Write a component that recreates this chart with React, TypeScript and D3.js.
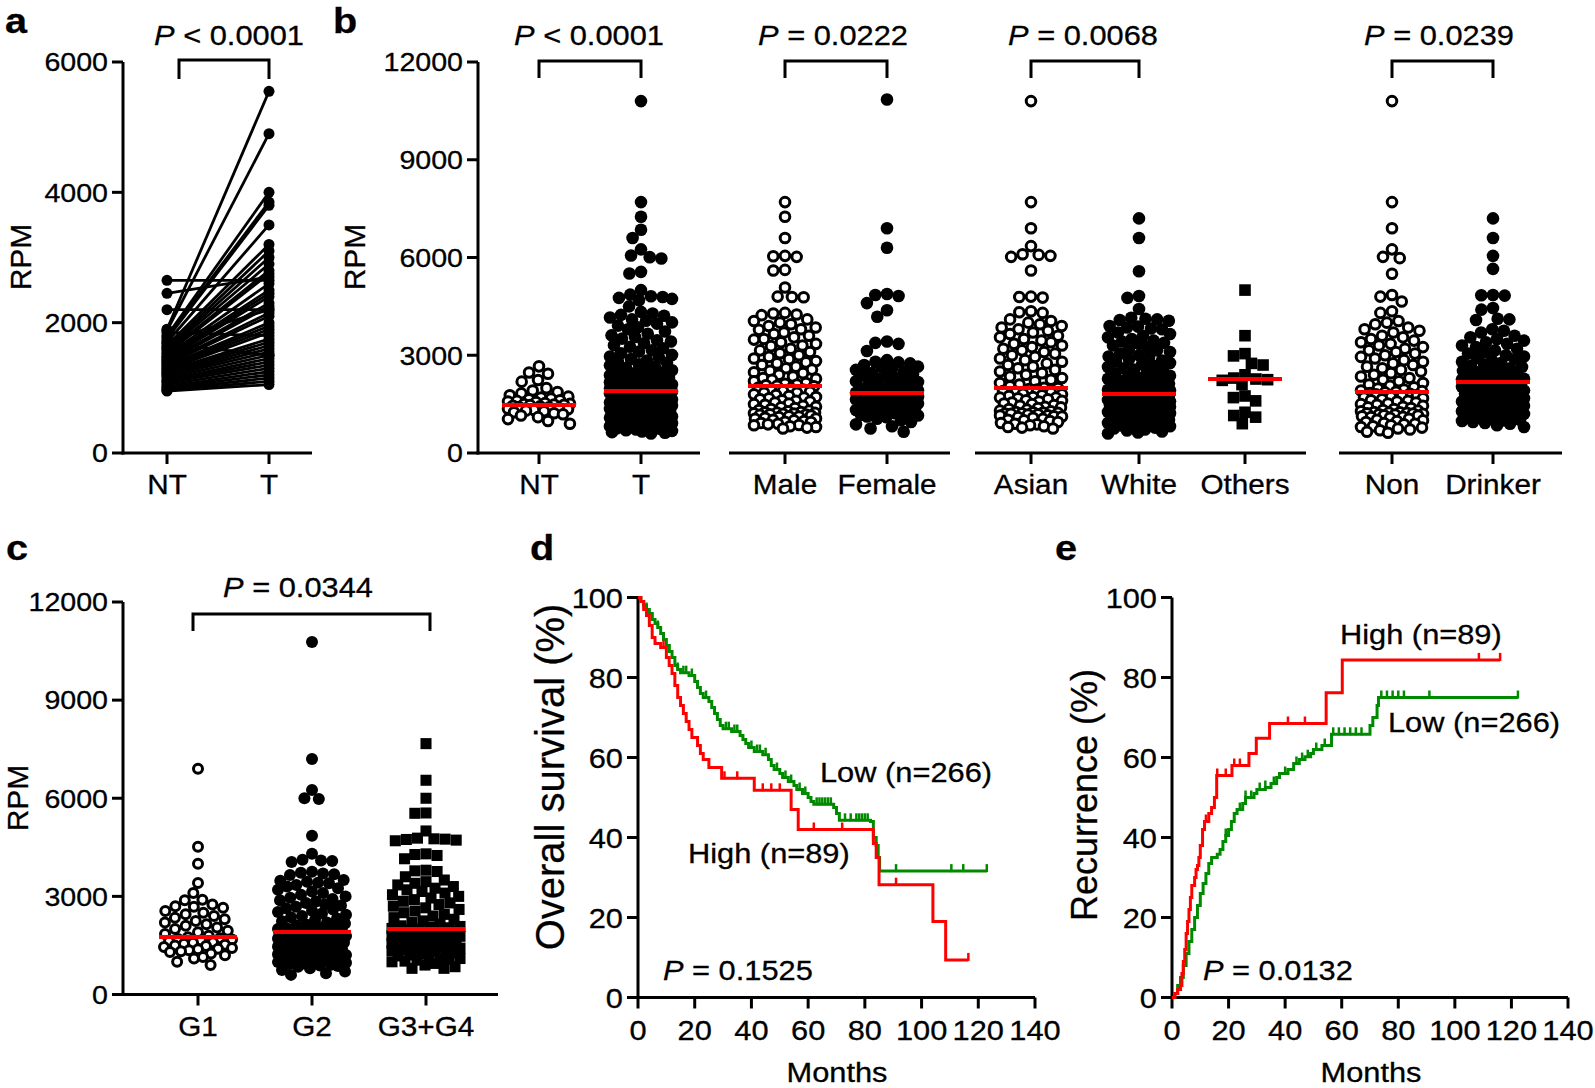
import React from "react";
import * as d3 from "d3";

const FONT = "'Liberation Sans', Arial, Helvetica, sans-serif";
const SX = 1.1;

// ---------- Panel a: paired NT / T ----------
const aNT = [2650, 2450, 2200, 1900, 1880, 1850, 1800, 1780, 1750, 1720, 1700, 1680, 1650, 1620, 1600, 1580, 1550, 1530, 1500, 1480, 1460, 1440, 1420, 1400, 1380, 1360, 1340, 1320, 1300, 1280, 1260, 1240, 1220, 1200, 1180, 1150, 1120, 1100, 1080, 1050, 1020, 1000, 980, 960, 950];
const aT = [2650, 2700, 2200, 5550, 4900, 1800, 4000, 3850, 3800, 2200, 3500, 1500, 3200, 3100, 3000, 2900, 2800, 2750, 2600, 2500, 2450, 2400, 2300, 2250, 2150, 2100, 2000, 1950, 1900, 1850, 1750, 1700, 1650, 1600, 1550, 1500, 1450, 1400, 1350, 1300, 1250, 1200, 1150, 1100, 1050];
const aTicks = [0, 2000, 4000, 6000];

// ---------- Panel b ----------
const bCategories = ["NT", "T", "Male", "Female", "Asian", "White", "Others", "Non", "Drinker"];
const bNT = [2660, 2470, 2430, 2240, 2190, 1990, 1920, 1870, 1830, 1770, 1730, 1700, 1670, 1650, 1620, 1600, 1580, 1560, 1530, 1510, 1500, 1490, 1480, 1470, 1450, 1430, 1410, 1400, 1380, 1360, 1340, 1320, 1300, 1280, 1250, 1220, 1190, 1150, 1100, 1040, 980, 900];
const bT = [10800, 7700, 7250, 6850, 6600, 6250, 6060, 6010, 5970, 5560, 5510, 5000, 4860, 4810, 4790, 4760, 4730, 4690, 4500, 4330, 4280, 4240, 4210, 4160, 4100, 4060, 4010, 3970, 3910, 3860, 3800, 3730, 3660, 3610, 3560, 3510, 3460, 3420, 3370, 3310, 3260, 3210, 3150, 3110, 3060, 3010, 2960, 2920, 2880, 2840, 2800, 2770, 2720, 2690, 2650, 2610, 2580, 2540, 2510, 2480, 2450, 2420, 2390, 2370, 2340, 2310, 2290, 2260, 2240, 2210, 2190, 2170, 2150, 2120, 2100, 2080, 2060, 2040, 2030, 2010, 1990, 1980, 1960, 1950, 1940, 1930, 1920, 1910, 1905, 1900, 1890, 1880, 1870, 1855, 1850, 1835, 1820, 1810, 1795, 1780, 1770, 1755, 1740, 1725, 1710, 1700, 1685, 1670, 1655, 1640, 1625, 1610, 1595, 1580, 1565, 1550, 1535, 1520, 1505, 1490, 1475, 1460, 1445, 1430, 1415, 1400, 1385, 1370, 1355, 1340, 1320, 1305, 1290, 1270, 1255, 1240, 1220, 1205, 1190, 1170, 1150, 1135, 1120, 1100, 1080, 1065, 1050, 1030, 1010, 990, 970, 950, 935, 915, 895, 880, 860, 840, 820, 800, 780, 760, 740, 720, 700, 680, 660, 640, 620, 600];
const bMale = [7700, 7250, 6600, 6050, 6040, 6020, 5620, 5600, 5080, 4800, 4790, 4780, 4300, 4280, 4250, 4230, 4100, 4050, 4000, 3950, 3900, 3850, 3800, 3780, 3700, 3650, 3600, 3550, 3500, 3480, 3400, 3350, 3300, 3280, 3200, 3150, 3100, 3060, 3000, 2950, 2900, 2880, 2820, 2780, 2750, 2700, 2650, 2600, 2560, 2520, 2480, 2450, 2400, 2350, 2300, 2280, 2250, 2200, 2150, 2120, 2100, 2080, 2060, 2050, 2000, 1980, 1950, 1950, 1900, 1880, 1850, 1850, 1800, 1780, 1750, 1720, 1700, 1680, 1650, 1620, 1600, 1580, 1550, 1520, 1500, 1480, 1450, 1420, 1400, 1380, 1350, 1320, 1300, 1280, 1260, 1250, 1240, 1230, 1220, 1210, 1200, 1190, 1180, 1170, 1150, 1130, 1120, 1100, 1080, 1060, 1050, 1020, 1000, 980, 960, 950, 920, 900, 880, 860, 850, 820, 800, 780, 750];
const bFemale = [10850, 6900, 6300, 4880, 4850, 4820, 4600, 4380, 4180, 3420, 3380, 3350, 3130, 2850, 2800, 2780, 2750, 2700, 2650, 2620, 2580, 2550, 2500, 2450, 2420, 2380, 2350, 2300, 2270, 2250, 2200, 2180, 2150, 2100, 2080, 2050, 2000, 1980, 1950, 1920, 1900, 1880, 1860, 1850, 1830, 1810, 1800, 1780, 1760, 1740, 1720, 1700, 1680, 1660, 1640, 1620, 1600, 1580, 1560, 1540, 1520, 1500, 1480, 1460, 1440, 1420, 1400, 1380, 1360, 1340, 1320, 1300, 1280, 1260, 1240, 1220, 1200, 1170, 1150, 1120, 1100, 1050, 1000, 950, 880, 820, 750, 650];
const bAsian = [10800, 7700, 6900, 6350, 6100, 6080, 6050, 6020, 5600, 4800, 4790, 4770, 4350, 4320, 4300, 4100, 4050, 4000, 3950, 3900, 3850, 3800, 3750, 3700, 3650, 3600, 3550, 3500, 3450, 3400, 3350, 3300, 3250, 3200, 3150, 3100, 3050, 3000, 2950, 2900, 2850, 2800, 2750, 2700, 2650, 2600, 2550, 2500, 2450, 2400, 2350, 2300, 2250, 2200, 2150, 2100, 2050, 2000, 1990, 1960, 1950, 1900, 1880, 1850, 1820, 1800, 1770, 1750, 1720, 1700, 1700, 1680, 1650, 1620, 1600, 1580, 1550, 1520, 1500, 1470, 1450, 1420, 1400, 1380, 1350, 1330, 1300, 1280, 1260, 1250, 1240, 1230, 1220, 1210, 1200, 1190, 1180, 1160, 1150, 1130, 1120, 1100, 1080, 1050, 1020, 1000, 980, 950, 920, 900, 880, 850, 820, 800, 780, 750];
const bWhite = [7200, 6600, 5580, 4820, 4760, 4420, 4150, 4120, 4100, 4080, 4060, 3900, 3880, 3850, 3820, 3800, 3700, 3650, 3600, 3550, 3500, 3450, 3420, 3380, 3350, 3300, 3250, 3200, 3150, 3100, 3050, 3000, 2960, 2920, 2880, 2840, 2800, 2760, 2720, 2680, 2640, 2600, 2560, 2520, 2480, 2440, 2400, 2370, 2340, 2310, 2280, 2250, 2220, 2190, 2160, 2130, 2100, 2080, 2060, 2040, 2020, 2000, 1980, 1960, 1940, 1920, 1900, 1890, 1880, 1870, 1860, 1850, 1840, 1830, 1820, 1800, 1790, 1780, 1765, 1750, 1735, 1720, 1705, 1690, 1675, 1660, 1645, 1630, 1615, 1600, 1585, 1570, 1555, 1540, 1525, 1510, 1495, 1480, 1465, 1450, 1435, 1420, 1405, 1390, 1375, 1360, 1340, 1320, 1300, 1280, 1260, 1240, 1220, 1200, 1180, 1160, 1140, 1120, 1100, 1080, 1060, 1040, 1020, 1000, 980, 960, 940, 920, 900, 880, 860, 840, 820, 800, 780, 750, 720, 690, 660, 630, 600];
const bOthers = [5000, 3600, 3050, 2980, 2750, 2700, 2400, 2300, 2270, 2250, 2230, 2100, 1750, 1700, 1600, 1250, 1150, 1100, 900];
const bNon = [10800, 7700, 6900, 6250, 6020, 5980, 5500, 4850, 4800, 4650, 4350, 4300, 4050, 4000, 3950, 3850, 3800, 3750, 3700, 3600, 3550, 3500, 3450, 3400, 3350, 3300, 3250, 3200, 3150, 3100, 3050, 3000, 2950, 2900, 2850, 2800, 2750, 2700, 2650, 2600, 2550, 2500, 2450, 2400, 2350, 2300, 2250, 2200, 2150, 2100, 2060, 2020, 1980, 1950, 1920, 1900, 1880, 1860, 1840, 1820, 1800, 1780, 1750, 1720, 1700, 1680, 1650, 1620, 1600, 1580, 1550, 1520, 1500, 1480, 1450, 1420, 1400, 1380, 1350, 1320, 1300, 1280, 1260, 1250, 1240, 1230, 1220, 1210, 1200, 1190, 1180, 1160, 1150, 1130, 1110, 1100, 1080, 1050, 1020, 1000, 980, 950, 920, 900, 880, 850, 820, 800, 780, 750, 720, 700, 650, 620];
const bDrinker = [7200, 6600, 6050, 5650, 4850, 4840, 4830, 4450, 4400, 4120, 4100, 4080, 3800, 3750, 3700, 3600, 3550, 3500, 3450, 3400, 3350, 3300, 3250, 3200, 3150, 3100, 3050, 3000, 2960, 2920, 2880, 2840, 2800, 2760, 2720, 2680, 2640, 2600, 2560, 2520, 2480, 2450, 2420, 2390, 2360, 2330, 2300, 2280, 2260, 2240, 2220, 2200, 2190, 2170, 2150, 2130, 2110, 2090, 2070, 2050, 2030, 2010, 1990, 1970, 1950, 1920, 1900, 1880, 1850, 1820, 1800, 1780, 1750, 1720, 1700, 1680, 1650, 1620, 1600, 1580, 1550, 1520, 1500, 1480, 1450, 1420, 1400, 1380, 1350, 1320, 1300, 1280, 1250, 1220, 1200, 1180, 1150, 1120, 1100, 1080, 1050, 1020, 1000, 980, 950, 920, 900, 850, 800];
const bMedians = [1473, 1903, 2056, 1840, 1995, 1810, 2270, 1872, 2180];
const bPvalues = ["< 0.0001", "= 0.0222", "= 0.0068", "= 0.0239"];
const bTicks = [0, 3000, 6000, 9000, 12000];

// ---------- Panel c ----------
const cCategories = ["G1", "G2", "G3+G4"];
const cG1 = [6900, 4520, 4000, 3410, 3100, 2900, 2880, 2750, 2700, 2680, 2650, 2550, 2500, 2450, 2400, 2350, 2300, 2250, 2200, 2150, 2100, 2050, 2000, 1950, 1900, 1850, 1800, 1750, 1720, 1700, 1680, 1650, 1620, 1600, 1580, 1550, 1520, 1500, 1480, 1450, 1420, 1400, 1380, 1350, 1320, 1300, 1250, 1200, 1150, 1100, 1000, 900];
const cG2 = [10780, 7200, 6250, 6000, 5980, 4850, 4300, 4120, 4100, 4080, 4050, 3750, 3720, 3700, 3680, 3650, 3500, 3480, 3450, 3420, 3400, 3350, 3300, 3250, 3200, 3150, 3100, 3050, 3000, 2960, 2920, 2880, 2840, 2800, 2760, 2720, 2680, 2640, 2600, 2560, 2520, 2480, 2440, 2400, 2360, 2320, 2280, 2240, 2200, 2170, 2140, 2110, 2080, 2050, 2020, 2000, 1980, 1960, 1940, 1920, 1910, 1890, 1870, 1850, 1830, 1810, 1790, 1770, 1750, 1730, 1710, 1690, 1670, 1650, 1630, 1610, 1590, 1570, 1550, 1530, 1510, 1490, 1470, 1450, 1430, 1410, 1390, 1370, 1350, 1330, 1310, 1290, 1270, 1250, 1230, 1210, 1190, 1170, 1150, 1130, 1110, 1090, 1070, 1050, 1030, 1010, 990, 970, 950, 930, 910, 890, 870, 850, 800, 750, 700, 650, 600];
const cG34 = [7670, 6550, 6000, 5550, 5540, 5000, 4780, 4760, 4750, 4740, 4720, 4700, 4300, 4280, 4250, 4150, 3800, 3780, 3760, 3600, 3500, 3450, 3400, 3350, 3300, 3250, 3200, 3150, 3100, 3050, 3000, 2950, 2900, 2850, 2800, 2750, 2700, 2650, 2600, 2550, 2500, 2450, 2400, 2350, 2300, 2250, 2200, 2150, 2100, 2080, 2060, 2040, 2020, 2000, 1980, 1960, 1940, 1920, 1900, 1880, 1860, 1840, 1820, 1800, 1780, 1760, 1740, 1720, 1700, 1680, 1660, 1640, 1620, 1600, 1580, 1560, 1540, 1520, 1500, 1480, 1460, 1440, 1420, 1400, 1380, 1360, 1340, 1320, 1300, 1270, 1240, 1210, 1180, 1150, 1120, 1100, 1080, 1050, 1020, 1000, 950, 900, 850, 800, 800];
const cMedians = [1758, 1911, 2003];

// ---------- Panel d: overall survival (months, %) ----------
const dLow = [[0, 100], [1, 99], [2, 98], [3, 97], [4, 96], [5, 94.5], [6, 93.5], [7, 92.5], [8, 91], [9, 89.5], [10, 88], [11, 86.5], [12, 85], [13, 83], [14, 82], [15, 81.2], [18, 80.5], [20, 79], [21, 77.5], [22, 76], [23, 75], [25, 74], [26, 72.5], [27, 71], [28, 69.5], [29, 68], [30, 67.2], [33, 66.5], [36, 65.5], [37, 64.5], [38, 63.5], [39, 62.5], [41, 61.5], [44, 60.7], [46, 59.5], [47, 58], [48, 57], [50, 56], [51, 55], [53, 54], [55, 53], [56, 52], [58, 51], [60, 50], [61, 49], [62, 48.3], [69, 47.5], [70, 46], [71, 44.3], [82, 44], [83, 40], [84, 38], [84.7, 35], [85.2, 31.6], [123, 31.6]];
const dLowCensor = [3, 5, 7, 9, 11, 14, 16, 17, 19, 21, 24, 27, 31, 32, 34, 35, 40, 42, 43, 45, 49, 52, 54, 57, 59, 63, 64, 65, 66, 67, 68, 73, 75, 77, 78, 79, 80, 81, 91, 110.5, 114.7, 123];
const dHigh = [[0, 100], [1, 99], [2, 97], [3, 95.5], [4, 93], [5, 90], [6, 88.5], [8, 87.5], [10, 85], [11, 83], [12, 81], [13, 78], [14, 75], [15, 73], [16, 71], [17, 69], [18, 67], [19, 65], [21, 63], [22, 61], [23, 59.5], [25, 57.5], [29.5, 54.8], [41, 51.8], [54, 47], [56.5, 42], [83, 38.5], [84, 35], [85, 28.2], [104, 19], [108.5, 9.4], [116.5, 9.4]];
const dHighCensor = [9, 30.5, 35, 44, 47, 50, 62, 72, 91, 116.5];

// ---------- Panel e: recurrence (months, %) ----------
const eHigh = [[0, 0], [1, 1], [2, 2], [3, 3], [3.5, 6], [4, 9], [4.5, 12], [5, 16], [5.5, 19], [6, 22], [6.5, 25], [7, 28], [8, 30], [8.5, 32], [9, 33], [9.5, 35], [10, 38], [10.8, 42], [11.5, 44], [13, 46], [14, 47.5], [15, 50], [15.8, 55.5], [21.2, 58], [27.2, 61], [29.8, 64.8], [34.5, 68.5], [54.5, 76.2], [60.2, 84.4], [116, 84.4]];
const eHighCensor = [12, 16, 19, 22, 24, 41, 47, 108.5, 116];
const eLow = [[0, 0], [1, 1], [2, 3], [3, 5], [4, 8], [5, 11], [6, 14], [7, 17], [8, 20], [9, 23], [10, 26], [11, 28.5], [12, 31], [13, 33.5], [14, 35], [16, 35.8], [17, 37], [18, 39], [19, 40.5], [20, 42], [21, 44], [22, 46], [23, 47], [25, 48.5], [26, 50], [29, 51], [30, 52], [33, 52.5], [35, 53.5], [37, 55], [38, 56], [41, 57], [43, 58.5], [45, 59.5], [47, 60.2], [49, 61], [50, 62], [53, 63], [56.4, 65.8], [70, 68], [71, 70], [72.5, 73], [73, 75], [122.3, 75]];
const eLowCensor = [19, 24, 26, 28, 31, 33, 36, 40, 44, 46, 48, 51, 54, 57, 59, 61, 63, 65, 67, 74, 76, 78, 80, 82, 91, 122.3];
const kmXTicks = [0, 20, 40, 60, 80, 100, 120, 140];
const kmYTicks = [0, 20, 40, 60, 80, 100];

// ---------- helpers ----------
type Pt = { v: number; x: number; y: number };

function swarm(values: number[], y: (v: number) => number, r: number, maxHalf: number): Pt[] {
  const pts: Pt[] = values.map((v) => ({ v, x: 0, y: y(v) })).sort((a, b) => a.y - b.y);
  const placed: Pt[] = [];
  const d = 2 * r * 0.93;
  for (const p of pts) {
    const near = placed.filter((q) => Math.abs(q.y - p.y) < d);
    const iv = near.map((q) => {
      const h = Math.sqrt(d * d - (q.y - p.y) ** 2);
      return [q.x - h, q.x + h];
    });
    const cands = [0, ...iv.flat()].sort((a, b) => Math.abs(a) - Math.abs(b));
    let best: number | null = null;
    for (const c of cands) {
      if (iv.every(([lo, hi]) => c <= lo + 1e-6 || c >= hi - 1e-6)) {
        best = c;
        break;
      }
    }
    if (best === null || Math.abs(best) > maxHalf) {
      let bx = 0;
      let bd = -1;
      for (let gx = -maxHalf; gx <= maxHalf; gx += 1) {
        let md = Infinity;
        for (const q of near) {
          const dd = Math.hypot(q.x - gx, q.y - p.y);
          if (dd < md) md = dd;
        }
        if (md > bd + 1e-9 || (Math.abs(md - bd) < 1e-9 && Math.abs(gx) < Math.abs(bx))) {
          bd = md;
          bx = gx;
        }
      }
      best = bx;
    }
    p.x = best;
    placed.push(p);
  }
  return pts;
}

function HT({ x, y, size, anchor = "start", weight = "normal", children }: any) {
  return (
    <text transform={`translate(${x},${y}) scale(${SX},1)`} fontSize={size} textAnchor={anchor} fontWeight={weight} fontFamily={FONT} fill="#000" stroke="#000" strokeWidth={0.3}>
      {children}
    </text>
  );
}

function VT({ cx, cy, size, children }: any) {
  return (
    <text transform={`translate(${cx},${cy}) rotate(-90)`} fontSize={size} textAnchor="middle" dy="0.36em" fontFamily={FONT} fill="#000" stroke="#000" strokeWidth={0.3}>
      {children}
    </text>
  );
}

function PLabel({ x, y, text, size = 28, anchor = "middle" }: any) {
  return (
    <HT x={x} y={y} size={size} anchor={anchor}>
      <tspan fontStyle="italic">P</tspan>
      <tspan>{" " + text}</tspan>
    </HT>
  );
}

function YAxis({ x, scale, ticks, size = 26, labelGap = 15 }: any) {
  const [y0, y1] = scale.range();
  return (
    <g>
      <line x1={x} x2={x} y1={y0 + 1.5} y2={y1} stroke="#000" strokeWidth={3} />
      {ticks.map((t: number) => (
        <g key={t}>
          <line x1={x - 11} x2={x} y1={scale(t)} y2={scale(t)} stroke="#000" strokeWidth={3} />
          <text transform={`translate(${x - labelGap},${scale(t)}) scale(${SX},1)`} dy="0.36em" textAnchor="end" fontSize={size} fontFamily={FONT} stroke="#000" strokeWidth={0.3}>
            {d3.format("d")(t)}
          </text>
        </g>
      ))}
    </g>
  );
}

function Bracket({ x1, x2, top, drop = 17 }: any) {
  return <path d={`M${x1},${top + drop}V${top}H${x2}V${top + drop}`} fill="none" stroke="#000" strokeWidth={3} />;
}

function Swarm({ values, cx, y, r, maxHalf, shape, median, medW = 74 }: any) {
  const pts = swarm(values, y, r, maxHalf);
  return (
    <g>
      {pts.map((p, i) =>
        shape === "open" ? (
          <circle key={i} cx={cx + p.x} cy={p.y} r={r - 1.5} fill="#fff" stroke="#000" strokeWidth={3} />
        ) : shape === "square" ? (
          <rect key={i} x={cx + p.x - r * 0.92} y={p.y - r * 0.92} width={2 * r * 0.92} height={2 * r * 0.92} fill="#000" />
        ) : (
          <circle key={i} cx={cx + p.x} cy={p.y} r={r} fill="#000" />
        )
      )}
      <line x1={cx - medW / 2} x2={cx + medW / 2} y1={y(median)} y2={y(median)} stroke="#ff0000" strokeWidth={4} />
    </g>
  );
}

function stepAt(data: number[][], t: number) {
  let v = data[0][1];
  for (const [tt, s] of data) if (tt <= t + 1e-9) v = s;
  return v;
}

function KM({ data, censor, x, y, color }: any) {
  const line = d3
    .line<number[]>()
    .x((d) => x(d[0]))
    .y((d) => y(d[1]))
    .curve(d3.curveStepAfter);
  return (
    <g>
      <path d={line(data) || ""} fill="none" stroke={color} strokeWidth={3} />
      {censor.map((t: number, i: number) => (
        <line key={i} x1={x(t)} x2={x(t)} y1={y(stepAt(data, t)) + 1} y2={y(stepAt(data, t)) - 7} stroke={color} strokeWidth={2.5} />
      ))}
    </g>
  );
}

function KMAxes({ x, y, xLabelY }: any) {
  const [x0, x1] = x.range();
  const [y0, y1] = y.range();
  return (
    <g>
      <line x1={x0} x2={x0} y1={y0 + 1.5} y2={y1} stroke="#000" strokeWidth={3} />
      <line x1={x0 - 1.5} x2={x1} y1={y0} y2={y0} stroke="#000" strokeWidth={3} />
      {kmYTicks.map((t) => (
        <g key={"y" + t}>
          <line x1={x0 - 11} x2={x0} y1={y(t)} y2={y(t)} stroke="#000" strokeWidth={3} />
          <text transform={`translate(${x0 - 15},${y(t)}) scale(${SX},1)`} dy="0.36em" textAnchor="end" fontSize={28} fontFamily={FONT} stroke="#000" strokeWidth={0.3}>
            {t}
          </text>
        </g>
      ))}
      {kmXTicks.map((t) => (
        <g key={"x" + t}>
          <line x1={x(t)} x2={x(t)} y1={y0} y2={y0 + 11} stroke="#000" strokeWidth={3} />
          <HT x={x(t)} y={xLabelY} size={28} anchor="middle">
            {t}
          </HT>
        </g>
      ))}
    </g>
  );
}

export default function App() {
  // Panel a
  const yA = d3.scaleLinear([0, 6000], [453, 62]);
  const aX = { NT: 167, T: 269 };
  // Panel b
  const yB = d3.scaleLinear([0, 12000], [453, 62]);
  const bX: Record<string, number> = { NT: 539, T: 641, Male: 785, Female: 887, Asian: 1031, White: 1139, Others: 1245, Non: 1392, Drinker: 1493 };
  const bData: Record<string, number[]> = { NT: bNT, T: bT, Male: bMale, Female: bFemale, Asian: bAsian, White: bWhite, Others: bOthers, Non: bNon, Drinker: bDrinker };
  const bShape: Record<string, string> = { NT: "open", T: "filled", Male: "open", Female: "filled", Asian: "open", White: "filled", Others: "square", Non: "open", Drinker: "filled" };
  const bSegments = [
    [478, 700],
    [729, 950],
    [975, 1306],
    [1339, 1562],
  ];
  const bPairs = [
    ["NT", "T", 589],
    ["Male", "Female", 833],
    ["Asian", "White", 1083],
    ["Non", "Drinker", 1439],
  ];
  // Panel c
  const yC = d3.scaleLinear([0, 12000], [994.5, 602]);
  const cX = [198, 312, 426];
  const cData = [cG1, cG2, cG34];
  const cShape = ["open", "filled", "square"];
  // Panel d, e
  const xD = d3.scaleLinear([0, 140], [638, 1035]);
  const yD = d3.scaleLinear([0, 100], [997.5, 597.5]);
  const xE = d3.scaleLinear([0, 140], [1172, 1568]);
  const yE = d3.scaleLinear([0, 100], [997.5, 597.5]);
  const GREEN = "#008a00";
  const RED = "#ff0000";

  return (
    <svg width={1595} height={1088} style={{ position: "absolute", left: 0, top: 0, background: "#fff" }} fontFamily={FONT}>
      <rect width={1595} height={1088} fill="#fff" />
      {/* ---------- a ---------- */}
      <HT x={5} y={33} size={36} weight="bold">a</HT>
      <YAxis x={123} scale={yA} ticks={aTicks} />
      <line x1={121.5} x2={312} y1={453} y2={453} stroke="#000" strokeWidth={3} />
      {Object.entries(aX).map(([k, x]) => (
        <g key={k}>
          <line x1={x} x2={x} y1={453} y2={464} stroke="#000" strokeWidth={3} />
          <HT x={x} y={494} size={27} anchor="middle">{k}</HT>
        </g>
      ))}
      <VT cx={20} cy={257} size={30}>RPM</VT>
      {aNT.map((v, i) => (
        <line key={"l" + i} x1={aX.NT} x2={aX.T} y1={yA(v)} y2={yA(aT[i])} stroke="#000" strokeWidth={2.8} />
      ))}
      {aNT.map((v, i) => (
        <g key={"p" + i}>
          <circle cx={aX.NT} cy={yA(v)} r={5.5} fill="#000" />
          <circle cx={aX.T} cy={yA(aT[i])} r={5.5} fill="#000" />
        </g>
      ))}
      <Bracket x1={179} x2={269} top={60} drop={19} />
      <PLabel x={229} y={45} text="< 0.0001" />

      {/* ---------- b ---------- */}
      <HT x={333} y={33} size={36} weight="bold">b</HT>
      <YAxis x={478} scale={yB} ticks={bTicks} />
      <VT cx={354} cy={257} size={30}>RPM</VT>
      {bSegments.map(([x1, x2], i) => (
        <line key={i} x1={i === 0 ? x1 - 1.5 : x1} x2={x2} y1={453} y2={453} stroke="#000" strokeWidth={3} />
      ))}
      {bCategories.map((c, i) => (
        <g key={c}>
          <line x1={bX[c]} x2={bX[c]} y1={453} y2={464} stroke="#000" strokeWidth={3} />
          <HT x={bX[c]} y={494} size={27} anchor="middle">{c}</HT>
          <Swarm values={bData[c]} cx={bX[c]} y={yB} r={6.3} maxHalf={31} shape={bShape[c]} median={bMedians[i]} />
        </g>
      ))}
      {bPairs.map(([a, b, px], i) => (
        <g key={i}>
          <Bracket x1={bX[a as string]} x2={bX[b as string]} top={61} />
          <PLabel x={px} y={45} text={bPvalues[i]} />
        </g>
      ))}

      {/* ---------- c ---------- */}
      <HT x={6} y={560} size={36} weight="bold">c</HT>
      <YAxis x={123} scale={yC} ticks={bTicks} />
      <VT cx={17} cy={798} size={30}>RPM</VT>
      <line x1={121.5} x2={498} y1={994.5} y2={994.5} stroke="#000" strokeWidth={3} />
      {cCategories.map((c, i) => (
        <g key={c}>
          <line x1={cX[i]} x2={cX[i]} y1={994.5} y2={1005.5} stroke="#000" strokeWidth={3} />
          <HT x={cX[i]} y={1036} size={27} anchor="middle">{c}</HT>
          <Swarm values={cData[i]} cx={cX[i]} y={yC} r={6} maxHalf={34} shape={cShape[i]} median={cMedians[i]} medW={78} />
        </g>
      ))}
      <Bracket x1={193} x2={430} top={614} drop={17} />
      <PLabel x={298} y={597} text="= 0.0344" />

      {/* ---------- d ---------- */}
      <HT x={530} y={560} size={36} weight="bold">d</HT>
      <KMAxes x={xD} y={yD} xLabelY={1040} />
      <VT cx={550} cy={777} size={40}>Overall survival (%)</VT>
      <HT x={837} y={1082} size={28} anchor="middle">Months</HT>
      <KM data={dLow} censor={dLowCensor} x={xD} y={yD} color={GREEN} />
      <KM data={dHigh} censor={dHighCensor} x={xD} y={yD} color={RED} />
      <HT x={820} y={782} size={28}>Low (n=266)</HT>
      <HT x={688} y={863} size={28}>High (n=89)</HT>
      <PLabel x={663} y={980} text="= 0.1525" anchor="start" />

      {/* ---------- e ---------- */}
      <HT x={1055} y={560} size={36} weight="bold">e</HT>
      <KMAxes x={xE} y={yE} xLabelY={1040} />
      <VT cx={1084} cy={795} size={36}>Recurrence (%)</VT>
      <HT x={1371} y={1082} size={28} anchor="middle">Months</HT>
      <KM data={eLow} censor={eLowCensor} x={xE} y={yE} color={GREEN} />
      <KM data={eHigh} censor={eHighCensor} x={xE} y={yE} color={RED} />
      <HT x={1340} y={644} size={28}>High (n=89)</HT>
      <HT x={1388} y={732} size={28}>Low (n=266)</HT>
      <PLabel x={1203} y={980} text="= 0.0132" anchor="start" />
    </svg>
  );
}
